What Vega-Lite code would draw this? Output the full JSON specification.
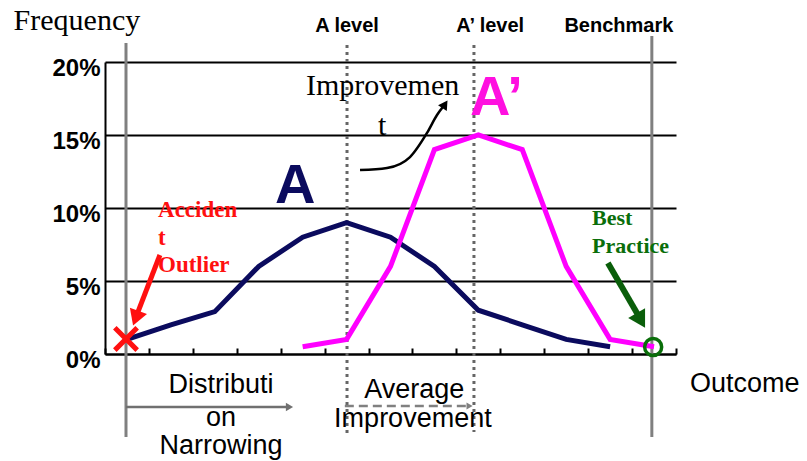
{
  "$schema": "https://vega.github.io/schema/vega-lite/v6.json",
  "width": 571,
  "height": 292,
  "autosize": {"type": "none"},
  "padding": {"left": 105, "top": 62, "right": 131, "bottom": 107},
  "background": "white",
  "config": {"view": {"stroke": null}},
  "encoding": {
    "x": {"field": "x", "type": "quantitative",
      "scale": {"domain": [0, 13], "nice": false, "zero": false},
      "axis": {"values": [0,1,2,3,4,5,6,7,8,9,10,11,12,13], "labels": false, "title": null, "grid": false,
        "domainColor": "black", "domainWidth": 2, "tickColor": "black", "tickWidth": 2, "tickSize": -6}},
    "y": {"field": "y", "type": "quantitative",
      "scale": {"domain": [0, 20], "nice": false, "zero": false},
      "axis": {"values": [0,5,10,15,20], "title": null, "grid": true, "gridColor": "black", "gridWidth": 2, "gridOpacity": 1,
        "domainColor": "black", "domainWidth": 2, "ticks": false, "labelExpr": "datum.value + '%'",
        "labelFont": "Liberation Sans", "labelFontWeight": "bold", "labelFontSize": 24, "labelColor": "black",
        "labelPadding": 5, "labelOffset": 6}}
  },
  "layer": [
    {
      "data": {"values": [{"x": 0.478, "y": 21.3, "y2": -5.68}, {"x": 12.45, "y": 21.78, "y2": -5.68}]},
      "mark": {"type": "rule", "color": "#808080", "strokeWidth": 3},
      "encoding": {"y2": {"field": "y2"}}
    },
    {
      "data": {"values": [{"x": 5.51, "y": 21.16, "y2": -5.68}, {"x": 8.40, "y": 21.16, "y2": -5.34}]},
      "mark": {"type": "rule", "color": "#666666", "strokeWidth": 3, "strokeDash": [3, 4]},
      "encoding": {"y2": {"field": "y2"}}
    },
    {
      "data": {"values": [
        {"s": "A", "x": 0.5, "y": 1.0}, {"s": "A", "x": 1.5, "y": 2.0}, {"s": "A", "x": 2.5, "y": 2.9},
        {"s": "A", "x": 3.5, "y": 6.0}, {"s": "A", "x": 4.5, "y": 8.0}, {"s": "A", "x": 5.5, "y": 9.0},
        {"s": "A", "x": 6.5, "y": 8.0}, {"s": "A", "x": 7.5, "y": 6.0}, {"s": "A", "x": 8.5, "y": 3.0},
        {"s": "A", "x": 9.5, "y": 2.0}, {"s": "A", "x": 10.5, "y": 1.0}, {"s": "A", "x": 11.5, "y": 0.5},
        {"s": "A'", "x": 4.5, "y": 0.5}, {"s": "A'", "x": 5.5, "y": 1.0}, {"s": "A'", "x": 6.5, "y": 6.0},
        {"s": "A'", "x": 7.5, "y": 14.0}, {"s": "A'", "x": 8.5, "y": 15.0}, {"s": "A'", "x": 9.5, "y": 14.0},
        {"s": "A'", "x": 10.5, "y": 6.0}, {"s": "A'", "x": 11.5, "y": 1.0}, {"s": "A'", "x": 12.5, "y": 0.5}
      ]},
      "mark": {"type": "line", "strokeWidth": 5},
      "encoding": {"color": {"field": "s", "type": "nominal", "scale": {"domain": ["A", "A'"], "range": ["#0b0b5e", "#ff00ff"]}, "legend": null}}
    },
    {
      "data": {"values": [{"x": 0.478, "y": 1.03}]},
      "mark": {"type": "point", "shape": "M-1,-1L1,1M1,-1L-1,1", "size": 500, "stroke": "#ff1010", "strokeWidth": 5, "filled": false, "opacity": 1}
    },
    {
      "data": {"values": [{"x": 12.48, "y": 0.48}]},
      "mark": {"type": "point", "shape": "circle", "size": 290, "stroke": "#0a6e0a", "strokeWidth": 3.5, "filled": false, "opacity": 1}
    },
    {
      "data": {"values": [{"x": 1.25, "y": 6.78, "x2": 0.74, "y2": 2.8}]},
      "mark": {"type": "rule", "color": "#ff1010", "strokeWidth": 5},
      "encoding": {"x2": {"field": "x2"}, "y2": {"field": "y2"}}
    },
    {
      "data": {"values": [{"x": 0.70, "y": 2.45}]},
      "mark": {"type": "point", "shape": "triangle-up", "size": 330, "fill": "#ff1010", "filled": true, "opacity": 1, "angle": 200}
    },
    {
      "data": {"values": [{"x": 11.45, "y": 6.23, "x2": 12.15, "y2": 2.6}]},
      "mark": {"type": "rule", "color": "#0a5e0a", "strokeWidth": 6},
      "encoding": {"x2": {"field": "x2"}, "y2": {"field": "y2"}}
    },
    {
      "data": {"values": [{"x": 12.2, "y": 2.3}]},
      "mark": {"type": "point", "shape": "triangle-up", "size": 380, "fill": "#0a5e0a", "filled": true, "opacity": 1, "angle": 150}
    },
    {
      "data": {"values": [{"x": 0.478, "y": -3.63, "x2": 4.15}]},
      "mark": {"type": "rule", "color": "#707070", "strokeWidth": 2.5},
      "encoding": {"x2": {"field": "x2"}}
    },
    {
      "data": {"values": [{"x": 4.2, "y": -3.63}]},
      "mark": {"type": "point", "shape": "triangle-up", "size": 70, "fill": "#707070", "filled": true, "opacity": 1, "angle": 90}
    },
    {
      "data": {"values": [{"x": 5.46, "y": -3.56, "x2": 8.25}]},
      "mark": {"type": "rule", "color": "#808080", "strokeWidth": 2.5, "strokeDash": [9, 5]},
      "encoding": {"x2": {"field": "x2"}}
    },
    {
      "data": {"values": [{"x": 8.3, "y": -3.56}]},
      "mark": {"type": "point", "shape": "triangle-up", "size": 50, "fill": "#808080", "filled": true, "opacity": 1, "angle": 90}
    },
    {
      "data": {"values": [
        {"x": 5.806, "y": 12.60}, {"x": 6.421, "y": 12.74}, {"x": 6.944, "y": 13.49},
        {"x": 7.331, "y": 15.14}, {"x": 7.559, "y": 16.37}, {"x": 7.70, "y": 16.95}
      ]},
      "mark": {"type": "line", "color": "black", "strokeWidth": 2.5, "interpolate": "monotone"}
    },
    {
      "data": {"values": [{"x": 7.74, "y": 17.1}]},
      "mark": {"type": "point", "shape": "triangle-up", "size": 110, "fill": "black", "filled": true, "opacity": 1, "angle": 34}
    },
    {
      "data": {"values": [{"x": -0.64, "y": 22.19, "t": "Frequency"}]},
      "mark": {"type": "text", "font": "Liberation Serif", "fontSize": 30, "color": "black", "align": "center", "baseline": "alphabetic"},
      "encoding": {"text": {"field": "t"}}
    },
    {
      "data": {"values": [
        {"x": 5.51, "y": 22.05, "t": "A level"},
        {"x": 8.77, "y": 22.05, "t": "A’ level"},
        {"x": 11.70, "y": 22.05, "t": "Benchmark"}
      ]},
      "mark": {"type": "text", "font": "Liberation Sans", "fontWeight": "bold", "fontSize": 20, "color": "black", "align": "center", "baseline": "alphabetic"},
      "encoding": {"text": {"field": "t"}}
    },
    {
      "data": {"values": [{"x": 13.32, "y": -2.6, "t": "Outcome"}]},
      "mark": {"type": "text", "font": "Liberation Sans", "fontSize": 27, "color": "black", "align": "left", "baseline": "alphabetic"},
      "encoding": {"text": {"field": "t"}}
    },
    {
      "data": {"values": [
        {"x": 2.64, "y": -2.67, "t": "Distributi"},
        {"x": 2.64, "y": -4.95, "t": "on"},
        {"x": 2.64, "y": -6.85, "t": "Narrowing"},
        {"x": 7.04, "y": -3.01, "t": "Average"},
        {"x": 7.01, "y": -5.0, "t": "Improvement"}
      ]},
      "mark": {"type": "text", "font": "Liberation Sans", "fontSize": 27, "color": "black", "align": "center", "baseline": "alphabetic"},
      "encoding": {"text": {"field": "t"}}
    },
    {
      "data": {"values": [{"x": 4.33, "y": 10.34, "t": "A"}]},
      "mark": {"type": "text", "font": "Liberation Sans", "fontWeight": "bold", "fontSize": 56, "color": "#0b0b5e", "align": "center", "baseline": "alphabetic"},
      "encoding": {"text": {"field": "t"}}
    },
    {
      "data": {"values": [{"x": 8.31, "y": 16.37, "t": "A’"}]},
      "mark": {"type": "text", "font": "Liberation Sans", "fontWeight": "bold", "fontSize": 56, "color": "#ff10e0", "align": "left", "baseline": "alphabetic"},
      "encoding": {"text": {"field": "t"}}
    },
    {
      "data": {"values": [
        {"x": 6.32, "y": 17.74, "t": "Improvemen"},
        {"x": 6.31, "y": 15.0, "t": "t"}
      ]},
      "mark": {"type": "text", "font": "Liberation Serif", "fontSize": 30, "color": "black", "align": "center", "baseline": "alphabetic"},
      "encoding": {"text": {"field": "t"}}
    },
    {
      "data": {"values": [
        {"x": 1.207, "y": 9.38, "t": "Acciden"},
        {"x": 1.207, "y": 7.47, "t": "t"},
        {"x": 1.207, "y": 5.62, "t": "Outlier"}
      ]},
      "mark": {"type": "text", "font": "Liberation Serif", "fontWeight": "bold", "fontSize": 23, "color": "#ff1010", "align": "left", "baseline": "alphabetic"},
      "encoding": {"text": {"field": "t"}}
    },
    {
      "data": {"values": [
        {"x": 11.09, "y": 8.84, "t": "Best"},
        {"x": 11.09, "y": 6.92, "t": "Practice"}
      ]},
      "mark": {"type": "text", "font": "Liberation Serif", "fontWeight": "bold", "fontSize": 22, "color": "#0a6e0a", "align": "left", "baseline": "alphabetic"},
      "encoding": {"text": {"field": "t"}}
    }
  ]
}
